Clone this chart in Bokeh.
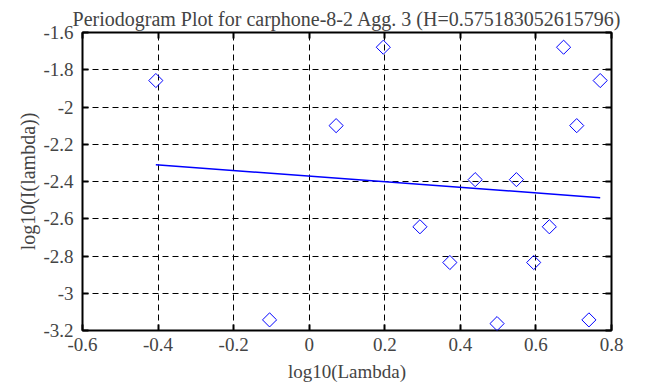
import numpy as np
from bokeh.plotting import figure
from bokeh.models import LinearAxis, FixedTicker, CustomJSTickFormatter, Range1d
from bokeh.embed import file_html
from bokeh.resources import INLINE

# data
log_lambda = [-0.4059, -0.1049, 0.0712, 0.1961, 0.2930, 0.3722, 0.4392, 0.4971,
              0.5483, 0.5941, 0.6355, 0.6732, 0.7080, 0.7402, 0.7701]
log_I = [-1.858, -3.143, -2.100, -1.679, -2.643, -2.835, -2.390, -3.163,
         -2.390, -2.835, -2.643, -1.679, -2.100, -3.143, -1.858]
fit_x = [-0.4059, 0.7701]
fit_y = [-2.310, -2.487]
x_ticks = [-0.6, -0.4, -0.2, 0.0, 0.2, 0.4, 0.6, 0.8]
y_ticks = [-3.2, -3.0, -2.8, -2.6, -2.4, -2.2, -2.0, -1.8, -1.6]
title_text = "Periodogram Plot for carphone-8-2 Agg. 3 (H=0.575183052615796)"

FONT = "Liberation Serif"
W, H = 655, 385
L, R, T, B = 82, 611, 32, 330

p = figure(width=W, height=H, output_backend="svg", toolbar_location=None,
           x_range=Range1d(-0.6, 0.8), y_range=Range1d(-3.2, -1.6),
           min_border_left=L, min_border_right=W - R,
           min_border_top=T, min_border_bottom=H - B,
           title=title_text)
p.title.text_font = FONT
p.title.text_font_size = "20px"
p.title.text_font_style = "normal"
p.title.text_line_height = 1.0
p.title.align = "center"
p.title.offset = 0
p.title.standoff = 6

fmt = CustomJSTickFormatter(code="return Number(tick.toFixed(2)).toString();")
for ax, ticks in ((p.xaxis[0], x_ticks), (p.yaxis[0], y_ticks)):
    ax.ticker = FixedTicker(ticks=ticks)
    ax.formatter = fmt
    ax.major_label_text_font = FONT
    ax.major_label_text_font_size = "19px"
    ax.axis_label_text_font = FONT
    ax.axis_label_text_font_size = "19px"
    ax.axis_label_text_font_style = "normal"
    ax.major_tick_in = 6
    ax.major_tick_out = 0
    ax.minor_tick_line_color = None
    ax.axis_line_color = None
    ax.major_tick_line_width = 2
p.xaxis.axis_label = "log10(Lambda)"
p.yaxis.axis_label = "log10(I(lambda))"
p.yaxis.axis_label_text_font_size = "20px"
p.xaxis.major_label_standoff = 7
p.yaxis.major_label_standoff = 9
p.xaxis.axis_label_standoff = 7
p.yaxis.axis_label_standoff = 1

for loc, ticks in (("right", y_ticks), ("above", x_ticks)):
    ax = LinearAxis(ticker=FixedTicker(ticks=ticks), major_label_text_font_size="1px",
                    major_label_text_color=None,
                    major_tick_in=6, major_tick_out=0, minor_tick_line_color=None,
                    axis_line_color=None, major_tick_line_width=2, major_label_standoff=0)
    p.add_layout(ax, loc)

p.xgrid.ticker = FixedTicker(ticks=x_ticks)
p.ygrid.ticker = FixedTicker(ticks=y_ticks)
p.grid.grid_line_color = "black"
p.grid.grid_line_dash = "6 4"
p.grid.grid_line_width = 1
p.grid.grid_line_alpha = 1

p.outline_line_color = "black"
p.outline_line_width = 2
p.outline_line_alpha = 1

p.line(fit_x, fit_y, line_color="blue", line_width=1.5)
p.scatter(log_lambda, log_I, marker="square", size=10, angle=np.pi / 4,
          fill_color=None, line_color="blue", line_width=1)

p.background_fill_color = "white"
p.border_fill_color = "white"

open("out.html", "w").write(file_html(p, INLINE))
